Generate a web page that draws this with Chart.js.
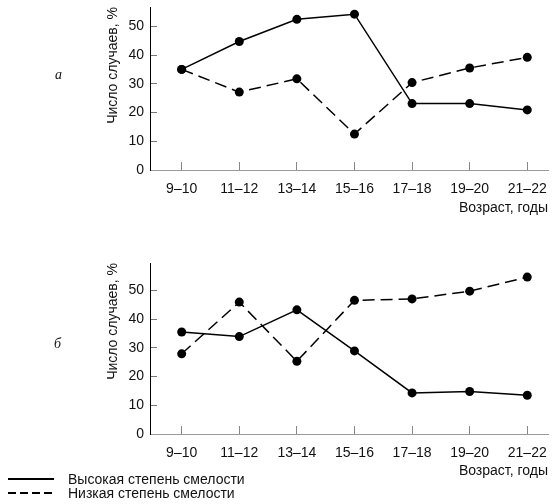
<!DOCTYPE html>
<html>
<head>
<meta charset="utf-8">
<script src="https://cdn.jsdelivr.net/npm/chart.js@4"></script>
<style>
  body { margin: 0; background: #fff; font-family: "Liberation Sans", Arial, sans-serif; color: #111; }
  #wrap { position: relative; width: 560px; height: 504px; }
  .box { position: absolute; left: 0; width: 560px; }
  .tag { position: absolute; font-family: "Liberation Serif", serif; font-style: italic; font-size: 14px; }
  .leg { position: absolute; left: 68px; font-size: 14px; line-height: 14px; }
  .smp { position: absolute; left: 8px; width: 46px; height: 2px; }
</style>
</head>
<body>
<div id="wrap">
  <div class="box" style="top:0;height:222px"><canvas id="chartA"></canvas></div>
  <div class="box" style="top:240px;height:244px"><canvas id="chartB"></canvas></div>
  <div class="tag" style="left:55px;top:67px">а</div>
  <div class="tag" style="left:54px;top:336px">б</div>
  <div class="smp" style="top:478px;background:#000"></div>
  <div class="smp" style="top:492px;background:repeating-linear-gradient(90deg,#000 0 8px,transparent 8px 12px)"></div>
  <div class="leg" style="top:472px">Высокая степень смелости</div>
  <div class="leg" style="top:486px">Низкая степень смелости</div>
</div>
<script>
var ages = ['9–10', '11–12', '13–14', '15–16', '17–18', '19–20', '21–22'];
// а
var highA = [35, 44.7, 52.4, 54.2, 23.1, 23.1, 20.9];
var lowA = [35, 27.1, 31.7, 12.5, 30.4, 35.5, 39.2];
// б
var highB = [35.5, 33.9, 43.2, 28.9, 14.3, 14.8, 13.5];
var lowB = [27.9, 45.9, 25.3, 46.5, 47.0, 49.7, 54.6];
var yTicks = [0, 10, 20, 30, 40, 50];

var font = { family: '"Liberation Sans", Arial, sans-serif', size: 14 };

function pts(arr) {
    return arr.map(function(v, i){ return { x: i, y: v }; });
}

function makeChart(id, high, low, yMax, padTop, axisH, titlePad) {
    var ctx = document.getElementById(id).getContext('2d');
    var data = {
        datasets: [
            {
                label: 'Высокая степень смелости',
                data: pts(high),
                borderColor: '#000',
                backgroundColor: '#000',
                borderWidth: 1.5,
                pointRadius: 4.5,
                pointBorderWidth: 0,
                tension: 0
            },
            {
                label: 'Низкая степень смелости',
                data: pts(low),
                borderColor: '#000',
                backgroundColor: '#000',
                borderWidth: 1.5,
                borderDash: [12, 6],
                pointRadius: 4.5,
                pointBorderWidth: 0,
                tension: 0
            }
        ]
    };
    var options = {
        responsive: true,
        maintainAspectRatio: false,
        animation: false,
        layout: { padding: { left: 98, right: 12, top: padTop, bottom: 0 } },
        plugins: { legend: { display: false }, tooltip: { enabled: false } },
        scales: {
            x: {
                type: 'linear',
                min: -0.55,
                max: 6.36,
                afterBuildTicks: function(s){ s.ticks = ages.map(function(a, i){ return { value: i }; }); },
                afterFit: function(s){ s.height = axisH; s.paddingLeft = 0; s.paddingRight = 0; },
                border: { color: '#999', width: 1 },
                grid: { drawOnChartArea: false, tickLength: -8, tickColor: '#888', tickWidth: 1 },
                ticks: { padding: 19, color: '#111', font: font, callback: function(v){ return ages[v]; } },
                title: { display: true, text: 'Возраст, годы', align: 'end', color: '#111', font: font, padding: { top: 0, bottom: titlePad } }
            },
            y: {
                min: 0,
                max: yMax,
                afterBuildTicks: function(s){ s.ticks = yTicks.map(function(v){ return { value: v }; }); },
                afterFit: function(s){ s.width = 52; s.paddingTop = 0; s.paddingBottom = 0; },
                border: { color: '#000', width: 1 },
                grid: { drawOnChartArea: false, tickLength: -7, tickColor: '#777', tickWidth: 1 },
                ticks: { padding: 13, color: '#111', font: font },
                title: { display: true, text: 'Число случаев, %', align: 'end', color: '#111', font: font, padding: { top: 7, bottom: 0 } }
            }
        }
    };
    return new Chart(ctx, { type: 'line', data: data, options: options });
}

var chartA = makeChart('chartA', highA, lowA, 56.7, 7, 52, 5);
var chartB = makeChart('chartB', highB, lowB, 59.5, 23, 50, 4);
</script>
</body>
</html>
